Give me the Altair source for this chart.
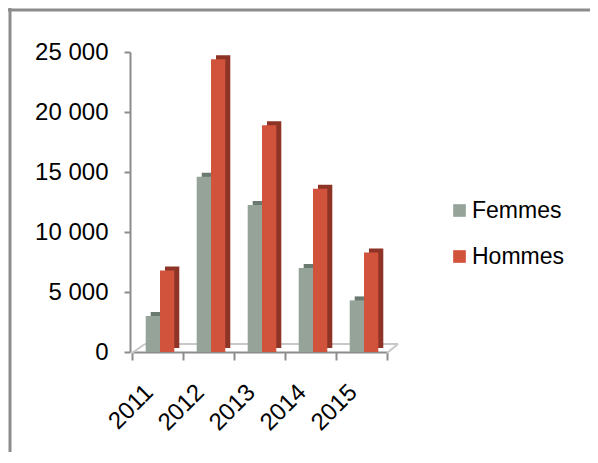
import altair as alt
import pandas as pd

years = ["2011", "2012", "2013", "2014", "2015"]
series = ["Femmes", "Hommes"]
femmes = [3000, 14600, 12250, 7000, 4300]
hommes = [6800, 24400, 18900, 13600, 8300]
y_ticks = [0, 5000, 10000, 15000, 20000, 25000]

front_colors = ["#95A399", "#D1533C"]
side_colors = ["#6B7A70", "#8E3426"]

rows = []
for i, yr in enumerate(years):
    rows.append({"year": yr, "sexe": "Femmes", "value": femmes[i]})
    rows.append({"year": yr, "sexe": "Hommes", "value": hommes[i]})
df = pd.DataFrame(rows)

W, H = 255, 300
FONT = "Liberation Sans"
GRAY = "#8c8c8c"
BW = 14.3  # bar width
SHIFT = 2.5

x_enc = alt.X(
    "year:N",
    sort=years,
    scale=alt.Scale(paddingInner=0, paddingOuter=0),
    axis=alt.Axis(
        title=None, labelAngle=-45, labelFontSize=24, labelFont=FONT,
        labelColor="black", tickBand="extent", domainColor=GRAY,
        tickColor=GRAY, domainWidth=2, tickWidth=2, tickSize=8,
        labelPadding=20, labelOffset=-17,
    ),
)
y_enc = alt.Y(
    "value:Q",
    scale=alt.Scale(domain=[0, 25000], nice=False),
    axis=alt.Axis(
        title=None, values=y_ticks, grid=False,
        labelExpr="replace(format(datum.value, ','), ',', ' ')",
        labelFontSize=24, labelFont=FONT, labelColor="black",
        domainColor=GRAY, tickColor=GRAY, domainWidth=2, tickWidth=2,
        tickSize=6, labelPadding=16, offset=2,
    ),
)

color_enc = alt.Color(
    "sexe:N", sort=series,
    scale=alt.Scale(domain=series, range=front_colors),
    legend=alt.Legend(
        title=None, orient="none", legendX=316, legendY=147,
        symbolType="square", symbolSize=160, symbolStrokeWidth=0,
        labelFontSize=23, labelFont=FONT, labelColor="black",
        rowPadding=22, padding=0, labelOffset=1,
    ),
)

layers = []
offsets = {"Femmes": SHIFT - BW / 2, "Hommes": SHIFT + BW / 2}
for s, side in zip(series, side_colors):
    layers.append(
        alt.Chart(df).transform_filter(alt.datum.sexe == s)
        .mark_bar(width=BW, xOffset=offsets[s] + 5, yOffset=-4, color=side)
        .encode(x=x_enc, y=y_enc)
    )
for s in series:
    layers.append(
        alt.Chart(df).transform_filter(alt.datum.sexe == s)
        .mark_bar(width=BW, xOffset=offsets[s])
        .encode(x=x_enc, y=y_enc, color=color_enc)
    )

deco = pd.DataFrame({"k": [0]})
floor_back = alt.Chart(deco).mark_rule(color="#c8c8c8", strokeWidth=2).encode(
    x=alt.value(13), x2=alt.value(266), y=alt.value(292), y2=alt.value(292))
floor_left = alt.Chart(deco).mark_rule(color="#c8c8c8", strokeWidth=2).encode(
    x=alt.value(0), x2=alt.value(13), y=alt.value(301), y2=alt.value(292))
floor_right = alt.Chart(deco).mark_rule(color="#c8c8c8", strokeWidth=2).encode(
    x=alt.value(255), x2=alt.value(266), y=alt.value(301), y2=alt.value(292))
frame_left = alt.Chart(deco).mark_rule(color=GRAY, strokeWidth=3).encode(
    x=alt.value(-122), x2=alt.value(-122), y=alt.value(-44), y2=alt.value(H + 100))
frame_top = alt.Chart(deco).mark_rule(color=GRAY, strokeWidth=3).encode(
    x=alt.value(-124), x2=alt.value(W + 203), y=alt.value(-42), y2=alt.value(-42))

chart = alt.layer(
    frame_left, frame_top, floor_back, floor_left, floor_right, *layers
).properties(
    width=W, height=H,
    padding={"left": 124, "top": 44, "right": 203, "bottom": 100},
    autosize="none", background="white",
).configure_view(stroke=None)

chart.save("out.html", embed_options={"renderer": "svg", "actions": False})
